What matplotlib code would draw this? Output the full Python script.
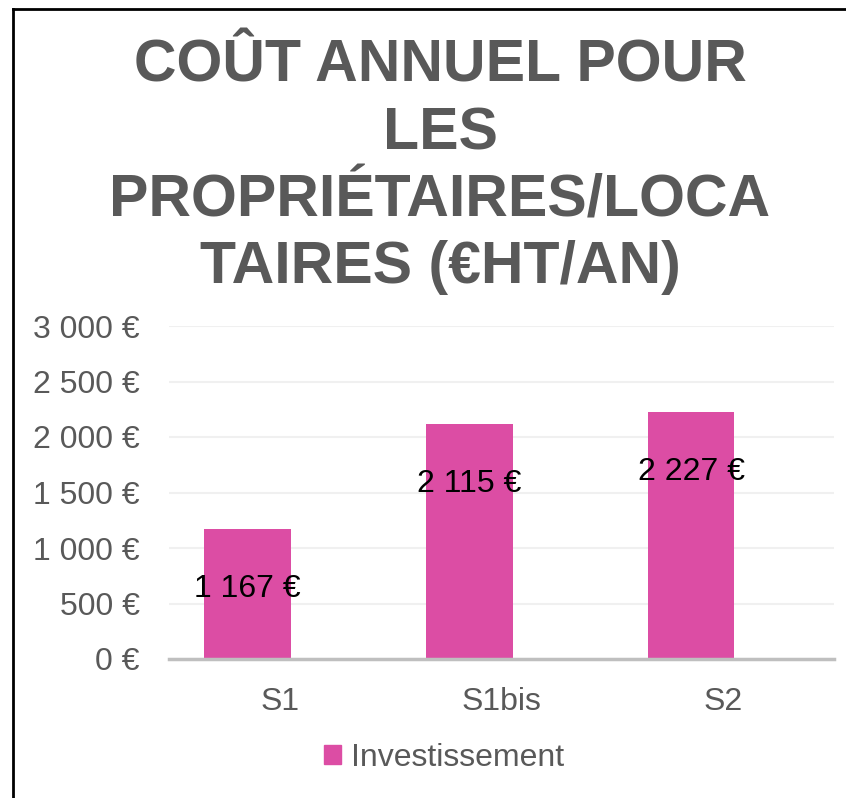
import matplotlib.pyplot as plt
from matplotlib.lines import Line2D

# données
categories = ["S1", "S1bis", "S2"]
valeurs = [1167, 2115, 2227]
yticks = [0, 500, 1000, 1500, 2000, 2500, 3000]
serie = "Investissement"
titre = "COÛT ANNUEL POUR\nLES\nPROPRIÉTAIRES/LOCA\nTAIRES (€HT/AN)"

def eur(v):
    return "{:,}".format(v).replace(",", " ") + " €"

plt.rcParams['font.family'] = ['Liberation Sans', 'DejaVu Sans']
gris = "#595959"
rose = "#DC4DA4"

W, H = 846, 798
fig = plt.figure(figsize=(W / 100, H / 100), dpi=100)
ax = fig.add_axes([169 / W, 1 - 659 / H, 665 / W, (659 - 326) / H])

x = list(range(len(categories)))
# barres décalées à gauche comme dans Excel (2e série vide)
xb = [i - 0.145 for i in x]
bars = ax.bar(xb, valeurs, width=0.39, color=rose, zorder=3, label=serie)
ax.set_xlim(-0.5, len(categories) - 0.5)
ax.set_ylim(0, 3000)
ax.set_yticks(yticks)
ax.set_yticklabels([eur(v) for v in yticks])
ax.set_xticks(x)
ax.set_xticklabels(categories)
ax.tick_params(axis='both', length=0, labelsize=23, labelcolor=gris)
ax.tick_params(axis='y', pad=21)
ax.tick_params(axis='x', pad=20)
ax.grid(axis='y', color="#F0F0F0", linewidth=1.5, zorder=0)
for s in ["top", "right", "left"]:
    ax.spines[s].set_visible(False)
ax.spines["bottom"].set_color("#BFBFBF")
ax.spines["bottom"].set_linewidth(2.5)
ax.spines["bottom"].set_zorder(4)

for b, v in zip(bars, valeurs):
    ax.annotate(eur(v), (b.get_x() + b.get_width() / 2, v), xytext=(0, -43),
                textcoords="offset points", ha="center", va="center",
                fontsize=23, color="black", zorder=5)

fig.text(440 / W, 1 - 39 / H, titre, ha="center", va="top", fontsize=42.5,
         fontweight="bold", color=gris, linespacing=1.28)

leg = fig.legend(handles=[plt.Rectangle((0, 0), 1, 1, color=rose)], labels=[serie],
                 loc="center", bbox_to_anchor=(444 / W, 1 - 758 / H), frameon=False,
                 fontsize=23, handlelength=0.55, handleheight=0.55, handletextpad=0.3)
for t in leg.get_texts():
    t.set_color(gris)

# bordure partielle (haut et gauche)
fig.add_artist(Line2D([13 / W, 1], [1 - 9 / H, 1 - 9 / H], color="black", lw=2, transform=fig.transFigure))
fig.add_artist(Line2D([13 / W, 13 / W], [0, 1 - 9 / H], color="black", lw=2, transform=fig.transFigure))

fig.savefig("out.png", dpi=100)
